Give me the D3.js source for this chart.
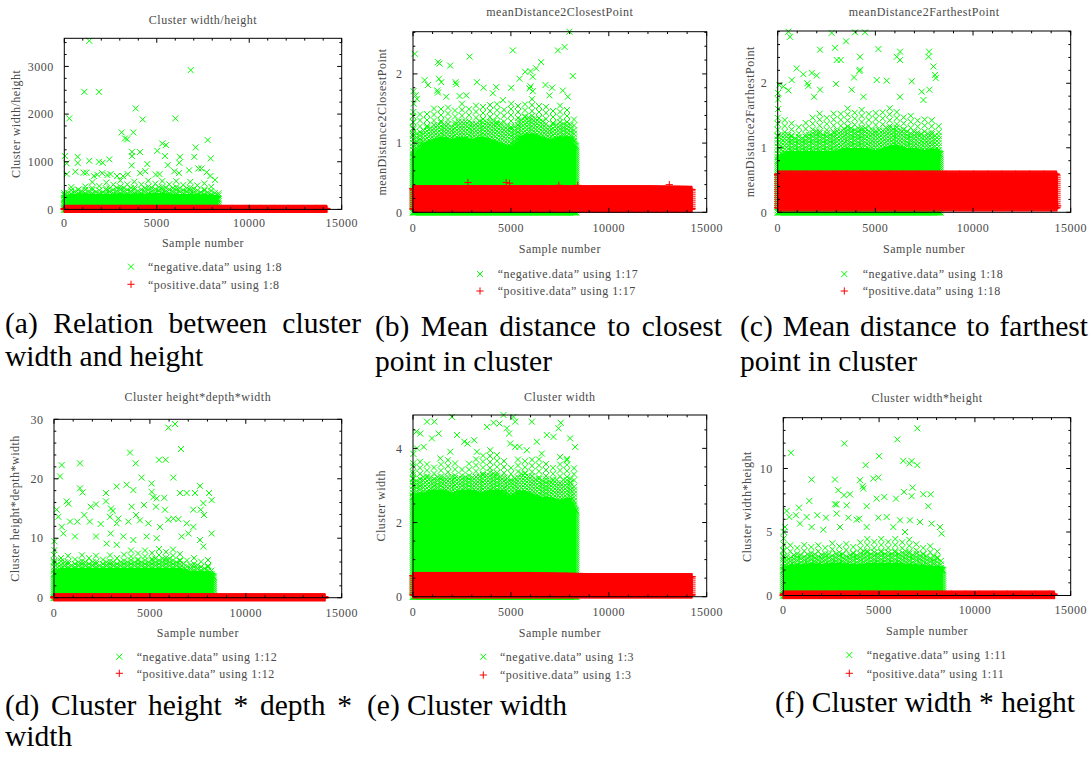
<!DOCTYPE html>
<html>
<head>
<meta charset="utf-8">
<script src="https://cdn.jsdelivr.net/npm/d3@7"></script>
<style>
  body { margin: 0; background: #fff; }
  svg { display: block; }
  .gp text { font-family: "Liberation Serif", "Times New Roman", serif; font-size: 12px; fill: #4a4a4a; letter-spacing: 0.5px; }
  .cap { font-family: "Liberation Serif", "Times New Roman", serif; font-size: 29.5px; fill: #000; }
</style>
</head>
<body>
<svg id="fig" width="1091" height="765"></svg>
<script>
// ---------------------------------------------------------------
// Data. Sample number runs along x; each panel plots one feature
// of the negative (green ×) and positive (red +) cluster samples.
// Dense parts of each cloud are given as envelopes per 500 samples:
//   *DenseTop  – upper edge of the solid part of the cloud
//   *SpreadTop – upper edge of the scattered part above it
// isolated samples are listed individually as [sample, value].
// ---------------------------------------------------------------
const negBins = [0, 500, 1000, 1500, 2000, 2500, 3000, 3500, 4000, 4500,
                 5000, 5500, 6000, 6500, 7000, 7500, 8000, 8330];
const posBins = [0, 3000, 6000, 9000, 12000, 14250];
const xTickValues = [0, 5000, 10000, 15000];

// (a) Cluster width/height  (column 8)
const whNegDenseTop  = [230, 260, 270, 260, 250, 260, 270, 260, 270, 260, 280, 270, 260, 260, 250, 250, 240, 220];
const whNegSpreadTop = [430, 560, 520, 600, 560, 600, 650, 620, 600, 650, 640, 620, 640, 600, 620, 560, 550, 430];
const whNegPoints = [
  [1352, 3537], [6835, 2922], [1081, 2467], [1876, 2467], [3861, 2119], [270, 1909], [4239, 1888],
  [6002, 1909], [3104, 1615], [3731, 1615], [3282, 1489], [3400, 1470], [7754, 1454], [5299, 1384],
  [5499, 1349], [5029, 1230], [7105, 1300], [3661, 1208], [3661, 1118], [4093, 1202], [38, 1118],
  [722, 1103], [5445, 1118], [6256, 1103], [7030, 1103], [7916, 1070], [1352, 1020], [1876, 1000],
  [2073, 980], [2433, 1049], [130, 965], [722, 975], [3645, 923], [4488, 950], [5591, 929],
  [6218, 978], [130, 740], [600, 790], [1050, 770], [1200, 770], [1600, 700], [1780, 730],
  [2050, 760], [2330, 720], [2500, 740], [2850, 700], [3180, 700], [3430, 740], [4380, 800],
  [4100, 760], [4950, 730], [5150, 740], [5950, 800], [6200, 760], [6750, 820], [7250, 860],
  [7420, 860], [7700, 780], [7900, 700], [8150, 620], [20, 300], [20, 200], [20, 140]
];
const whPosLow  = [0, 0, 0, 0, 0, 0];
const whPosHigh = [20, 20, 20, 20, 20, 20];
const whPosPoints = [];

// (b) meanDistance2ClosestPoint  (column 17)
const cpNegDenseTop  = [0.8, 0.95, 1.0, 1.05, 1.0, 1.05, 1.0, 1.05, 1.0, 0.95, 0.9, 1.05, 1.1, 1.05, 1.0, 1.05, 1.05, 0.95];
const cpNegSpreadTop = [1.4, 1.45, 1.5, 1.55, 1.5, 1.6, 1.55, 1.6, 1.6, 1.55, 1.5, 1.6, 1.7, 1.6, 1.5, 1.55, 1.5, 1.35];
const cpNegPoints = [
  [85, 2.29], [7990, 2.61], [5100, 2.34], [2890, 2.25], [7400, 2.34], [7740, 2.39], [1275, 2.17],
  [1360, 2.15], [1900, 2.12], [8160, 1.97], [136, 1.69], [200, 1.64], [40, 1.57], [595, 1.91],
  [765, 1.84], [1326, 1.93], [1445, 1.88], [2176, 1.88], [2210, 1.85], [3264, 1.88], [3604, 1.80],
  [4250, 1.81], [5015, 1.80], [5440, 1.93], [5730, 2.03], [6000, 2.04], [6290, 2.08], [6545, 2.17],
  [6120, 1.96], [6766, 1.84], [7106, 1.80], [7650, 1.76], [7905, 1.67], [1241, 1.76], [1275, 1.73],
  [1700, 1.67], [2380, 1.68], [2720, 1.69], [4080, 1.72], [4590, 1.62], [5015, 1.57], [5950, 1.79],
  [6000, 1.82], [6120, 1.75], [6970, 1.69], [20, 1.2], [20, 1.3], [20, 1.45], [25, 1.75]
];
const cpPosLow  = [0.05, 0.05, 0.05, 0.05, 0.05, 0.05];
const cpPosHigh = [0.34, 0.34, 0.34, 0.34, 0.34, 0.33];
const cpPosPoints = [[2805, 0.43], [4760, 0.43], [4930, 0.42], [7446, 0.39], [8415, 0.39], [13090, 0.40]];

// (c) meanDistance2FarthestPoint  (column 18)
const fpNegDenseTop  = [0.8, 0.9, 0.9, 0.9, 0.9, 0.9, 0.9, 0.95, 0.95, 0.95, 0.9, 0.95, 1.0, 0.95, 0.95, 0.9, 0.95, 0.9];
const fpNegSpreadTop = [1.5, 1.45, 1.4, 1.45, 1.55, 1.5, 1.55, 1.65, 1.6, 1.6, 1.55, 1.65, 1.6, 1.55, 1.5, 1.45, 1.5, 1.4];
const fpNegPoints = [
  [546, 2.80], [631, 2.72], [2765, 2.78], [3960, 2.79], [4470, 2.79], [3500, 2.65], [2936, 2.55],
  [2168, 2.52], [5155, 2.53], [3021, 2.36], [3225, 2.36], [4216, 2.41], [4216, 2.21], [4180, 2.19],
  [6094, 2.41], [6265, 2.49], [6265, 2.36], [7750, 2.49], [7720, 2.41], [7972, 2.26], [8055, 2.13],
  [8090, 2.08], [973, 2.23], [1314, 2.14], [1741, 2.16], [2000, 2.12], [2987, 1.99], [3909, 2.09],
  [5070, 2.05], [5582, 2.04], [6862, 2.03], [717, 2.05], [85, 1.97], [290, 1.95], [546, 1.89],
  [1519, 2.0], [1570, 1.96], [1860, 1.79], [2168, 1.9], [3790, 1.9], [4390, 1.79], [6265, 1.79],
  [7374, 1.87], [7767, 1.9], [7460, 1.74], [20, 1.6], [20, 1.75], [20, 1.85]
];
const fpPosLow  = [0.07, 0.07, 0.07, 0.07, 0.07, 0.07];
const fpPosHigh = [0.59, 0.59, 0.59, 0.59, 0.59, 0.59];
const fpPosPoints = [[0, 0.58], [14340, 0.1]];

// (d) Cluster height*depth*width  (column 12)
const hdwNegDenseTop  = [4, 4.5, 4.5, 4.5, 4.5, 4.5, 4.5, 4.5, 4.5, 4.5, 4.5, 4.5, 4.5, 4.5, 4, 4, 4, 3.5];
const hdwNegSpreadTop = [8, 7.5, 7, 7.5, 7.5, 7, 7.5, 7.5, 8, 8, 8, 8.5, 8.5, 8, 7, 7, 6.5, 6];
const hdwNegPoints = [
  [6309, 29.2], [5961, 28.6], [6622, 25.0], [3963, 24.4], [1356, 22.6], [4258, 22.6], [400, 22.3],
  [5475, 23.2], [5822, 23.2], [313, 20.4], [4571, 20.2], [6222, 20.2], [1356, 18.4], [1490, 17.7],
  [3268, 18.7], [3789, 19.0], [4136, 18.1], [5092, 19.2], [5092, 17.8], [5180, 16.9], [5353, 16.7],
  [5750, 16.8], [6570, 17.6], [6917, 17.6], [7352, 17.6], [7612, 18.8], [8082, 17.6], [8221, 16.4],
  [7786, 15.9], [660, 16.2], [750, 15.8], [1912, 15.3], [2190, 15.7], [2711, 17.6], [2711, 16.2],
  [2972, 15.0], [3060, 14.6], [4050, 15.3], [4693, 15.6], [5318, 15.3], [5787, 14.8], [7265, 14.8],
  [7647, 14.8], [7821, 13.9], [139, 14.8], [226, 13.6], [400, 11.9], [834, 12.8], [1217, 12.8],
  [1582, 13.9], [1870, 12.8], [2433, 12.4], [2920, 13.6], [3268, 12.5], [3354, 13.3], [3876, 12.8],
  [4275, 13.9], [4480, 13.0], [4919, 12.5], [5527, 11.9], [5961, 13.1], [6222, 13.3], [6483, 13.2],
  [6917, 12.5], [7265, 11.9], [8221, 10.8], [7612, 9.7], [487, 10.8], [1095, 10.3], [2190, 10.3],
  [2955, 10.8], [3615, 10.3], [4136, 9.7], [4832, 10.3], [5353, 10.0], [6657, 10.3], [7004, 10.8],
  [7786, 8.6], [2746, 9.1], [3270, 8.9], [20, 6], [20, 8], [20, 9.5]
];
const hdwPosLow  = [0, 0, 0, 0, 0, 0];
const hdwPosHigh = [0.15, 0.15, 0.15, 0.15, 0.15, 0.15];
const hdwPosPoints = [];

// (e) Cluster width  (column 3)
const wNegDenseTop  = [2.7, 2.7, 2.8, 2.8, 2.7, 2.8, 2.8, 2.7, 2.8, 2.8, 2.6, 2.8, 2.7, 2.6, 2.6, 2.5, 2.6, 2.3];
const wNegSpreadTop = [3.6, 3.7, 3.6, 3.6, 3.8, 3.5, 3.7, 3.8, 3.9, 3.7, 3.6, 3.8, 3.8, 3.7, 3.6, 3.7, 3.8, 3.5];
const wNegPoints = [
  [1989, 4.85], [4624, 4.9], [5134, 4.85], [5220, 4.72], [6069, 4.72], [714, 4.72], [1088, 4.72],
  [3774, 4.58], [4114, 4.69], [4420, 4.67], [4794, 4.54], [4910, 4.40], [7548, 4.69], [7430, 4.54],
  [170, 4.45], [374, 4.40], [969, 4.27], [1309, 4.40], [2244, 4.36], [2788, 4.13], [3128, 4.22],
  [2618, 4.18], [4964, 4.13], [5220, 4.04], [5440, 4.04], [6324, 4.18], [6834, 4.36], [7174, 4.31],
  [8024, 4.27], [8279, 4.04], [204, 4.0], [544, 4.04], [1394, 3.73], [1904, 3.91], [3264, 3.91],
  [3944, 3.95], [4284, 3.82], [5814, 3.95], [6579, 3.86], [7514, 3.77], [7854, 3.68],
  [20, 3.0], [20, 3.3], [20, 3.6], [20, 3.85]
];
const wPosLow  = [0.05, 0.05, 0.05, 0.05, 0.05, 0.05];
const wPosHigh = [0.57, 0.57, 0.57, 0.54, 0.54, 0.54];
const wPosPoints = [];

// (f) Cluster width*height  (column 11)
const whtNegDenseTop  = [2, 2.2, 2.2, 2.3, 2.2, 2.3, 2.3, 2.2, 2.2, 2.3, 2.3, 2.3, 2.3, 2.2, 2.2, 2.1, 2.1, 2.0];
const whtNegSpreadTop = [4, 4.2, 4.1, 4.2, 4, 4.3, 4.3, 4.2, 4.5, 4.5, 4.5, 4.5, 4.5, 4.5, 4.2, 4.2, 3.8, 3.4];
const whtNegPoints = [
  [6995, 13.16], [5951, 12.29], [3184, 11.97], [400, 11.24], [4994, 10.97], [6264, 10.6], [6699, 10.58],
  [6580, 10.4], [6995, 10.26], [4298, 10.26], [1479, 9.13], [2697, 9.13], [4002, 9.08], [4140, 8.6],
  [4176, 8.42], [4698, 9.21], [4959, 9.29], [2871, 8.29], [3167, 7.89], [3480, 7.97], [3306, 7.1],
  [2697, 7.18], [2780, 7.18], [4872, 7.63], [5272, 7.76], [5881, 7.63], [6299, 8.16], [6751, 8.5],
  [7308, 7.97], [7691, 7.97], [6699, 7.82], [7569, 7.03], [4350, 7.03], [1357, 7.45], [818, 6.92],
  [174, 6.66], [313, 6.18], [661, 6.32], [1218, 6.18], [1775, 6.32], [2227, 6.13], [2784, 6.45],
  [3393, 6.13], [3828, 5.97], [3960, 6.05], [4959, 6.13], [5394, 6.18], [6090, 5.92], [6612, 5.92],
  [7134, 5.79], [7743, 5.66], [8178, 5.39], [8265, 4.87], [87, 5.39], [870, 5.66], [1479, 5.39],
  [2088, 5.18], [2958, 5.39], [4350, 5.39], [5742, 5.39], [6351, 5.0],
  [20, 3.0], [20, 3.5], [20, 4.0], [20, 4.5], [20, 5.0]
];
const whtPosLow  = [0, 0, 0, 0, 0, 0];
const whtPosHigh = [0.1, 0.1, 0.1, 0.1, 0.1, 0.1];
const whtPosPoints = [];

// Legend column numbers and plot captions
const legendColumns = ["8", "17", "18", "12", "3", "11"];
const titles = ["Cluster width/height", "meanDistance2ClosestPoint", "meanDistance2FarthestPoint",
                "Cluster height*depth*width", "Cluster width", "Cluster width*height"];
const yTickSets = [[0, 1000, 2000, 3000], [0, 1, 2], [0, 1, 2], [0, 10, 20, 30], [0, 2, 4], [0, 5, 10]];
const captions = [
  ["(a) Relation between cluster", "width and height"],
  ["(b) Mean distance to closest", "point in cluster"],
  ["(c) Mean distance to farthest", "point in cluster"],
  ["(d) Cluster height * depth *", "width"],
  ["(e) Cluster width"],
  ["(f) Cluster width * height"]
];

// ---------------------------------------------------------------
// Layout of the six gnuplot panels
// ---------------------------------------------------------------
const panels = [
  { L: 64.3, R: 341.7, T: 38.3, B: 209.4, yMax: 3590, yMinor: 250, titleY: 23.5, yLabX: 20, xTickDy: 17.6, xLabDy: 38,
    legX: 131, legTextX: 148, legY: [266.7, 284.3],
    neg: { top: whNegDenseTop, spread: whNegSpreadTop, points: whNegPoints },
    pos: { max: 14200, lo: whPosLow, hi: whPosHigh, points: whPosPoints } },
  { L: 413, R: 706.7, T: 31.7, B: 212.3, yMax: 2.61, yMinor: 0.2, titleY: 16, yLabX: 385.5, xTickDy: 19.5, xLabDy: 40.5,
    legX: 480, legTextX: 497.7, legY: [274, 291],
    neg: { top: cpNegDenseTop, spread: cpNegSpreadTop, points: cpNegPoints },
    pos: { max: 14250, lo: cpPosLow, hi: cpPosHigh, points: cpPosPoints } },
  { L: 777.7, R: 1070.7, T: 31, B: 212.3, yMax: 2.81, yMinor: 0.2, titleY: 16, yLabX: 754, xTickDy: 19.5, xLabDy: 40.5,
    legX: 844.3, legTextX: 862.7, legY: [274, 291],
    neg: { top: fpNegDenseTop, spread: fpNegSpreadTop, points: fpNegPoints },
    pos: { max: 14300, lo: fpPosLow, hi: fpPosHigh, points: fpPosPoints } },
  { L: 54, R: 341.7, T: 419.3, B: 597.7, yMax: 30, yMinor: 2, titleY: 400.5, yLabX: 19, xTickDy: 18.8, xLabDy: 39,
    legX: 119.3, legTextX: 136.7, legY: [656.7, 673.3],
    neg: { top: hdwNegDenseTop, spread: hdwNegSpreadTop, points: hdwNegPoints },
    pos: { max: 14130, lo: hdwPosLow, hi: hdwPosHigh, points: hdwPosPoints } },
  { L: 413, R: 706.7, T: 415, B: 596.7, yMax: 4.9, yMinor: 0.5, titleY: 400.5, yLabX: 384.7, xTickDy: 19, xLabDy: 40,
    legX: 483.3, legTextX: 500, legY: [656.7, 675],
    neg: { top: wNegDenseTop, spread: wNegSpreadTop, points: wNegPoints },
    pos: { max: 14250, lo: wPosLow, hi: wPosHigh, points: wPosPoints } },
  { L: 783.3, R: 1070.7, T: 417.7, B: 595.5, yMax: 14, yMinor: 1, titleY: 402, yLabX: 750.7, xTickDy: 18, xLabDy: 39.5,
    legX: 849.3, legTextX: 866.7, legY: [655, 673.3],
    neg: { top: whtNegDenseTop, spread: whtNegSpreadTop, points: whtNegPoints },
    pos: { max: 14165, lo: whtPosLow, hi: whtPosHigh, points: whtPosPoints } }
];

const captionLayout = [
  { x: 5, y: [333, 366], justify: 356 },
  { x: 375, y: [336, 371], justify: 347 },
  { x: 740, y: [336, 371], justify: 348 },
  { x: 5, y: [715, 746], justify: 347 },
  { x: 367, y: [715] },
  { x: 775, y: [712] }
];

const GREEN = "#00ff00", RED = "#ff0000";
const svg = d3.select("#fig");

// marker glyphs: gnuplot point type 2 (×) and type 1 (+)
function glyphs(kind, pts, x, y) {
  let d = "";
  for (const [s, v] of pts) {
    const px = x(s), py = y(v);
    if (kind === "x") {
      const r = 3;
      d += `M${px - r},${py - r}L${px + r},${py + r}M${px - r},${py + r}L${px + r},${py - r}`;
    } else {
      const r = 3.6;
      d += `M${px - r},${py}H${px + r}M${px},${py - r}V${py + r}`;
    }
  }
  return d;
}

// a cloud: solid core between lo and hi, scattered marks between hi and top
// (denser near the core), solid edges of marks around the core, plus the
// individually listed samples
function cloud(g, x, y, bins, loArr, hiArr, topArr, points, kind, color) {
  const fLo = d3.scaleLinear().domain(bins).range(loArr);
  const fHi = d3.scaleLinear().domain(bins).range(hiArr);
  const fTop = d3.scaleLinear().domain(bins).range(topArr);
  const last = bins[bins.length - 1];
  const perPx = x.invert(x.range()[0] + 1) - x.invert(x.range()[0]);

  g.append("path")
    .attr("d", d3.area().x(s => x(s)).y0(s => y(fLo(s))).y1(s => y(fHi(s)))(bins))
    .attr("fill", color);

  const marks = [];
  // top and bottom edges, packed tightly so they render as a solid band
  for (let s = bins[0]; s <= last; s += perPx * 0.5) {
    marks.push([s, fLo(s)], [s, fHi(s)]);
  }
  // left and right ends
  for (const s of [bins[0], last]) {
    for (let py = y(fLo(s)); py >= y(fHi(s)); py -= 2) marks.push([s, y.invert(py)]);
  }
  // scattered part above the core: close rows near it, wider ones higher up
  let col = 0;
  for (let s = bins[0]; s <= last; s += perPx * 3.5, col++) {
    const yHi = y(fHi(s)), yTop = y(fTop(s));
    const yMid = yHi + (yTop - yHi) * 0.55;
    for (let py = yHi - (col % 2 ? 1.75 : 3.5); py >= yMid; py -= 3.5) marks.push([s, y.invert(py)]);
    if (col % 2 === 0) {
      for (let py = yMid - (col % 4 ? 3 : 0); py >= yTop; py -= 6) marks.push([s, y.invert(py)]);
    }
  }
  for (const p of points) marks.push(p);

  g.append("path")
    .attr("d", glyphs(kind, marks, x, y))
    .attr("fill", "none")
    .attr("stroke", color)
    .attr("stroke-width", 1);
}

panels.forEach((p, i) => {
  const g = svg.append("g").attr("class", "gp");
  const x = d3.scaleLinear().domain([0, 15000]).range([p.L, p.R]);
  const y = d3.scaleLinear().domain([0, p.yMax]).range([p.B, p.T]);

  // negative samples (green ×)
  cloud(g, x, y, negBins, negBins.map(() => 0), p.neg.top, p.neg.spread, p.neg.points, "x", GREEN);
  // positive samples (red +)
  const pb = posBins.slice(0, -1).concat([p.pos.max]);
  cloud(g, x, y, pb, p.pos.lo, p.pos.hi, p.pos.hi, p.pos.points, "+", RED);

  // frame
  g.append("rect").attr("x", p.L).attr("y", p.T).attr("width", p.R - p.L).attr("height", p.B - p.T)
    .attr("fill", "none").attr("stroke", "#000").attr("stroke-width", 1);

  // tics on all four sides, pointing inward
  const tics = g.append("g").attr("stroke", "#000").attr("stroke-width", 1);
  const major = 4.5, minor = 2.3;
  const xMinor = d3.range(0, 15001, 1000);
  xMinor.forEach(v => {
    const len = xTickValues.includes(v) ? major : minor;
    tics.append("line").attr("x1", x(v)).attr("x2", x(v)).attr("y1", p.B).attr("y2", p.B - len);
    tics.append("line").attr("x1", x(v)).attr("x2", x(v)).attr("y1", p.T).attr("y2", p.T + len);
  });
  const yt = yTickSets[i];
  const yMinorVals = d3.range(0, p.yMax + 1e-9, p.yMinor);
  yMinorVals.forEach(v => {
    const isMajor = yt.some(t => Math.abs(t - v) < 1e-9);
    const len = isMajor ? major : minor;
    tics.append("line").attr("x1", p.L).attr("x2", p.L + len).attr("y1", y(v)).attr("y2", y(v));
    tics.append("line").attr("x1", p.R).attr("x2", p.R - len).attr("y1", y(v)).attr("y2", y(v));
  });

  // tick labels
  xTickValues.forEach(v => {
    g.append("text").attr("x", x(v)).attr("y", p.B + p.xTickDy).attr("text-anchor", "middle").text(v);
  });
  yt.forEach(v => {
    g.append("text").attr("x", p.L - 10.5).attr("y", y(v)).attr("dy", "0.35em").attr("text-anchor", "end").text(v);
  });

  // titles and axis labels
  const cx = (p.L + p.R) / 2, cy = (p.T + p.B) / 2;
  g.append("text").attr("x", cx).attr("y", p.titleY).attr("text-anchor", "middle").text(titles[i]);
  g.append("text").attr("x", cx).attr("y", p.B + p.xLabDy).attr("text-anchor", "middle").text("Sample number");
  g.append("text").attr("transform", `translate(${p.yLabX},${cy}) rotate(-90)`).attr("text-anchor", "middle").text(titles[i]);

  // key
  const col = legendColumns[i];
  const keys = [
    { kind: "x", color: GREEN, label: `\u201Cnegative.data\u201D using 1:${col}` },
    { kind: "+", color: RED, label: `\u201Cpositive.data\u201D using 1:${col}` }
  ];
  keys.forEach((k, j) => {
    const ky = p.legY[j];
    const ident = d3.scaleLinear().domain([0, 1]).range([0, 1]);
    g.append("path").attr("d", glyphs(k.kind, [[p.legX, ky]], ident, ident))
      .attr("fill", "none").attr("stroke", k.color).attr("stroke-width", 1);
    g.append("text").attr("x", p.legTextX).attr("y", ky).attr("dy", "0.35em").text(k.label);
  });
});

// sub-figure captions
captions.forEach((lines, i) => {
  const c = captionLayout[i];
  lines.forEach((line, j) => {
    const t = svg.append("text").attr("class", "cap").attr("x", c.x).attr("y", c.y[j]).text(line);
    if (j === 0 && c.justify) {
      const natural = t.node().getComputedTextLength();
      const spaces = (line.match(/ /g) || []).length;
      if (spaces > 0) t.attr("word-spacing", ((c.justify - natural) / spaces).toFixed(2) + "px");
    }
  });
});
</script>
</body>
</html>
